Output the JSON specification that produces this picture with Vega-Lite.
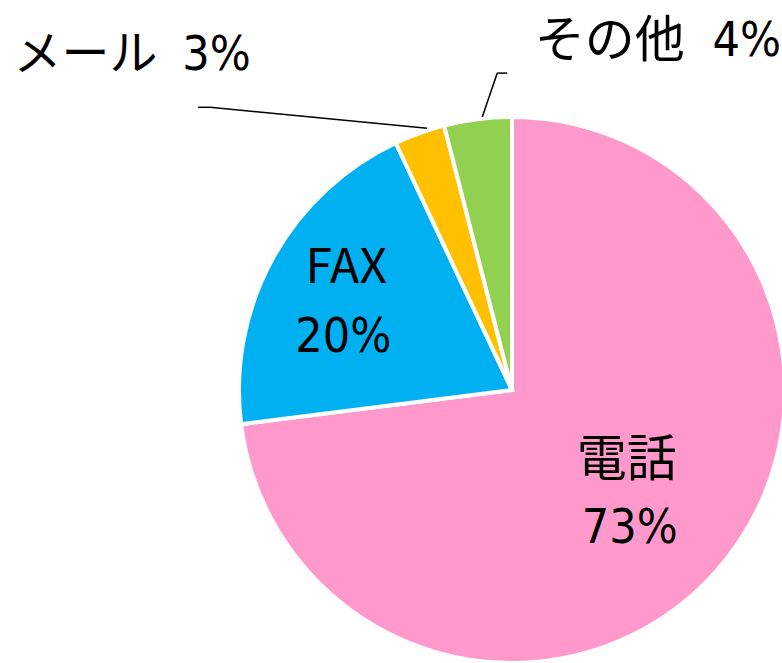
{
  "$schema": "https://vega.github.io/schema/vega-lite/v6.json",
  "width": 546,
  "height": 546,
  "autosize": "none",
  "padding": {"left": 239, "top": 117, "right": 0, "bottom": 0},
  "background": "white",
  "view": {"stroke": null},
  "data": {
    "values": [
      {"idx": 1, "cat": "電話", "value": 73},
      {"idx": 2, "cat": "FAX", "value": 20},
      {"idx": 3, "cat": "メール", "value": 3},
      {"idx": 4, "cat": "その他", "value": 4}
    ]
  },
  "transform": [
    {"window": [{"op": "sum", "field": "value", "as": "cum"}], "sort": [{"field": "idx"}], "frame": [null, 0]},
    {"joinaggregate": [{"op": "sum", "field": "value", "as": "total"}]},
    {"calculate": "2*PI*(datum.cum - datum.value/2)/datum.total", "as": "mid"},
    {"calculate": "1.015*sin(datum.mid)", "as": "lx"},
    {"calculate": "1.015*cos(datum.mid)", "as": "ly"},
    {"calculate": "datum.value + '%'", "as": "pct"}
  ],
  "layer": [
    {
      "mark": {"type": "arc", "stroke": "white", "strokeWidth": 4},
      "encoding": {
        "theta": {"field": "value", "type": "quantitative", "stack": true},
        "order": {"field": "idx", "type": "quantitative"},
        "color": {
          "field": "cat", "type": "nominal", "legend": null,
          "scale": {"domain": ["電話", "FAX", "メール", "その他"], "range": ["#FF99CC", "#00B0F0", "#FFC000", "#92D050"]}
        }
      }
    },
    {
      "mark": {"type": "text", "radius": 153, "dy": -15, "font": "Noto Sans CJK JP", "fontSize": 50, "baseline": "alphabetic", "align": "center", "color": "black"},
      "encoding": {
        "theta": {"field": "value", "type": "quantitative", "stack": true},
        "order": {"field": "idx", "type": "quantitative"},
        "text": {"condition": {"test": "datum.cat == '電話'", "field": "cat"}, "value": ""}
      }
    },
    {
      "mark": {"type": "text", "radius": 153, "dx": 3, "dy": 52, "font": "Liberation Sans Narrow, DejaVu Sans Condensed, Noto Sans CJK JP", "fontSize": 48, "baseline": "alphabetic", "align": "center", "color": "black"},
      "encoding": {
        "theta": {"field": "value", "type": "quantitative", "stack": true},
        "order": {"field": "idx", "type": "quantitative"},
        "text": {"condition": {"test": "datum.cat == '電話'", "field": "pct"}, "value": ""}
      }
    },
    {
      "mark": {"type": "text", "radius": 188, "dx": -1, "dy": -16, "font": "Noto Sans CJK JP", "fontSize": 48, "baseline": "alphabetic", "align": "center", "color": "black"},
      "encoding": {
        "theta": {"field": "value", "type": "quantitative", "stack": true},
        "order": {"field": "idx", "type": "quantitative"},
        "text": {"condition": {"test": "datum.cat == 'FAX'", "field": "cat"}, "value": ""}
      }
    },
    {
      "mark": {"type": "text", "radius": 188, "dx": -4, "dy": 53, "font": "Liberation Sans Narrow, DejaVu Sans Condensed, Noto Sans CJK JP", "fontSize": 48, "baseline": "alphabetic", "align": "center", "color": "black"},
      "encoding": {
        "theta": {"field": "value", "type": "quantitative", "stack": true},
        "order": {"field": "idx", "type": "quantitative"},
        "text": {"condition": {"test": "datum.cat == 'FAX'", "field": "pct"}, "value": ""}
      }
    },
    {
      "mark": {"type": "text", "radius": 273, "dx": -334, "dy": -63, "font": "Noto Sans CJK JP", "fontSize": 48, "baseline": "alphabetic", "align": "center", "color": "black"},
      "encoding": {
        "theta": {"field": "value", "type": "quantitative", "stack": true},
        "order": {"field": "idx", "type": "quantitative"},
        "text": {"condition": {"test": "datum.cat == 'メール'", "field": "cat"}, "value": ""}
      }
    },
    {
      "mark": {"type": "text", "radius": 273, "dx": -203, "dy": -63, "font": "Liberation Sans Narrow, DejaVu Sans Condensed, Noto Sans CJK JP", "fontSize": 48, "baseline": "alphabetic", "align": "center", "color": "black"},
      "encoding": {
        "theta": {"field": "value", "type": "quantitative", "stack": true},
        "order": {"field": "idx", "type": "quantitative"},
        "text": {"condition": {"test": "datum.cat == 'メール'", "field": "pct"}, "value": ""}
      }
    },
    {
      "mark": {"type": "text", "radius": 273, "dx": 132, "dy": -62, "font": "Noto Sans CJK JP", "fontSize": 50, "baseline": "alphabetic", "align": "center", "color": "black"},
      "encoding": {
        "theta": {"field": "value", "type": "quantitative", "stack": true},
        "order": {"field": "idx", "type": "quantitative"},
        "text": {"condition": {"test": "datum.cat == 'その他'", "field": "cat"}, "value": ""}
      }
    },
    {
      "mark": {"type": "text", "radius": 273, "dx": 269, "dy": -63, "font": "Liberation Sans Narrow, DejaVu Sans Condensed, Noto Sans CJK JP", "fontSize": 48, "baseline": "alphabetic", "align": "center", "color": "black"},
      "encoding": {
        "theta": {"field": "value", "type": "quantitative", "stack": true},
        "order": {"field": "idx", "type": "quantitative"},
        "text": {"condition": {"test": "datum.cat == 'その他'", "field": "pct"}, "value": ""}
      }
    },
    {
      "transform": [{"filter": "datum.cat == 'メール'"}],
      "mark": {"type": "rule", "color": "black", "strokeWidth": 1.5, "xOffset": 9, "yOffset": -1, "x2Offset": -208, "y2Offset": -22},
      "encoding": {
        "x": {"field": "lx", "type": "quantitative", "scale": {"domain": [-1, 1], "nice": false, "zero": false}, "axis": null},
        "y": {"field": "ly", "type": "quantitative", "scale": {"domain": [-1, 1], "nice": false, "zero": false}, "axis": null},
        "x2": {"field": "lx"},
        "y2": {"field": "ly"}
      }
    },
    {
      "transform": [{"filter": "datum.cat == 'メール'"}],
      "mark": {"type": "rule", "color": "black", "strokeWidth": 1.5, "xOffset": -208, "yOffset": -22, "x2Offset": -220, "y2Offset": -22},
      "encoding": {
        "x": {"field": "lx", "type": "quantitative", "scale": {"domain": [-1, 1], "nice": false, "zero": false}, "axis": null},
        "y": {"field": "ly", "type": "quantitative", "scale": {"domain": [-1, 1], "nice": false, "zero": false}, "axis": null},
        "x2": {"field": "lx"},
        "y2": {"field": "ly"}
      }
    },
    {
      "transform": [{"filter": "datum.cat == 'その他'"}],
      "mark": {"type": "rule", "color": "black", "strokeWidth": 1.5, "xOffset": 5, "yOffset": 2, "x2Offset": 20, "y2Offset": -42},
      "encoding": {
        "x": {"field": "lx", "type": "quantitative", "scale": {"domain": [-1, 1], "nice": false, "zero": false}, "axis": null},
        "y": {"field": "ly", "type": "quantitative", "scale": {"domain": [-1, 1], "nice": false, "zero": false}, "axis": null},
        "x2": {"field": "lx"},
        "y2": {"field": "ly"}
      }
    },
    {
      "transform": [{"filter": "datum.cat == 'その他'"}],
      "mark": {"type": "rule", "color": "black", "strokeWidth": 1.5, "xOffset": 20, "yOffset": -42, "x2Offset": 30, "y2Offset": -42},
      "encoding": {
        "x": {"field": "lx", "type": "quantitative", "scale": {"domain": [-1, 1], "nice": false, "zero": false}, "axis": null},
        "y": {"field": "ly", "type": "quantitative", "scale": {"domain": [-1, 1], "nice": false, "zero": false}, "axis": null},
        "x2": {"field": "lx"},
        "y2": {"field": "ly"}
      }
    }
  ]
}
